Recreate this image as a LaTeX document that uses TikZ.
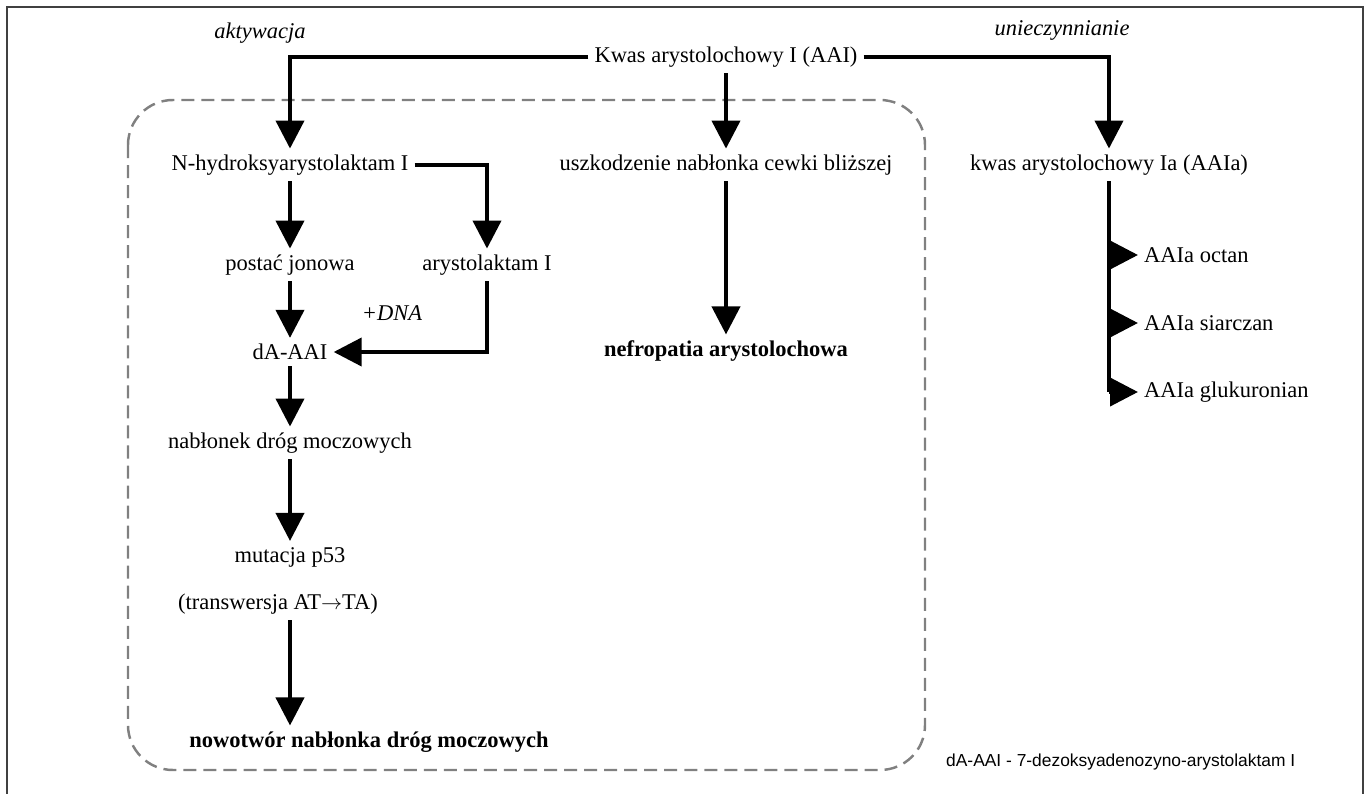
\documentclass[tikz,border=0pt]{standalone}
\usepackage{fontspec}
\setmainfont{Liberation Serif}
\newfontfamily\notefont{Liberation Sans}
\usetikzlibrary{arrows.meta}
\newcommand{\mainsize}{\fontsize{12.8pt}{15pt}\selectfont}
\begin{document}
\begin{tikzpicture}[
  txt/.style={font=\mainsize},
  lbl/.style={font=\mainsize\itshape},
  res/.style={font=\mainsize\bfseries},
  arr/.style={-{Triangle[length=5.6mm, width=5.6mm]}, line width=2.3pt},
  conn/.style={line width=2.3pt},
  zone/.style={draw=black!50, line width=1.4pt, dash pattern=on 7.4pt off 4pt, rounded corners=9mm},
]
  \useasboundingbox (0, 0) rectangle (27.44, -15.88);
  \draw[black!75, line width=0.7pt] (0.14, -15.88) -- (0.14, -0.14) -- (27.26, -0.14) -- (27.26, -15.88);
  \draw[zone] (2.56, -2.0) rectangle (18.5, -15.4);

  \node[lbl] (akt) at (5.2, -0.66) {aktywacja};
  \node[lbl] (unie) at (21.24, -0.60) {unieczynnianie};
  \node[txt] (kwas) at (14.52, -1.14) {Kwas arystolochowy I (AAI)};

  \node[txt] (nhyd) at (5.8, -3.3) {N-hydroksyarystolaktam I};
  \node[txt] (uszk) at (14.52, -3.3) {uszkodzenie nabłonka cewki bliższej};
  \node[txt] (aaia) at (22.18, -3.3) {kwas arystolochowy Ia (AAIa)};

  \node[txt] (postac) at (5.8, -5.3) {postać jonowa};
  \node[txt] (arlak) at (9.74, -5.3) {arystolaktam I};
  \node[lbl] (dna) at (7.84, -6.26) {+DNA};
  \node[txt] (daai) at (5.8, -7.04) {dA-AAI};
  \node[res] (nefro) at (14.52, -7.02) {nefropatia arystolochowa};
  \node[txt] (nablonek) at (5.8, -8.86) {nabłonek dróg moczowych};
  \node[txt] (mutacja) at (5.8, -11.14) {mutacja p53};
  \node[txt] (transw) at (5.56, -12.08) {(transwersja AT$\rightarrow$TA)};
  \node[res] (nowotwor) at (7.38, -14.84) {nowotwór nabłonka dróg moczowych};

  \node[txt, anchor=west] (octan) at (22.76, -5.1) {AAIa octan};
  \node[txt, anchor=west] (siarczan) at (22.76, -6.46) {AAIa siarczan};
  \node[txt, anchor=west] (glukur) at (22.76, -7.84) {AAIa glukuronian};

  \node[font=\notefont\fontsize{9.9pt}{12pt}\selectfont, anchor=west] (note) at (18.8, -15.24) {dA-AAI - 7-dezoksyadenozyno-arystolaktam I};

  \draw[arr] (kwas.west) -| (nhyd.north);
  \draw[arr] (kwas) -- (uszk);
  \draw[arr] (kwas.east) -| (aaia.north);

  \draw[arr] (nhyd) -- (postac);
  \draw[arr] (nhyd.east) -| (arlak.north);
  \draw[arr] (postac) -- (daai);
  \draw[arr] (arlak.south) |- (daai.east);
  \draw[arr] (daai) -- (nablonek);
  \draw[arr] (nablonek) -- (mutacja);
  \draw[arr] (transw.south -| mutacja.south) -- (nowotwor.north -| mutacja.south);

  \draw[arr] (uszk) -- (nefro);

  \draw[conn] (aaia.south) -- (glukur.west -| aaia.south);
  \draw[arr] (octan.west -| aaia.south) -- (octan.west);
  \draw[arr] (siarczan.west -| aaia.south) -- (siarczan.west);
  \draw[arr] (glukur.west -| aaia.south) -- (glukur.west);
\end{tikzpicture}
\end{document}
